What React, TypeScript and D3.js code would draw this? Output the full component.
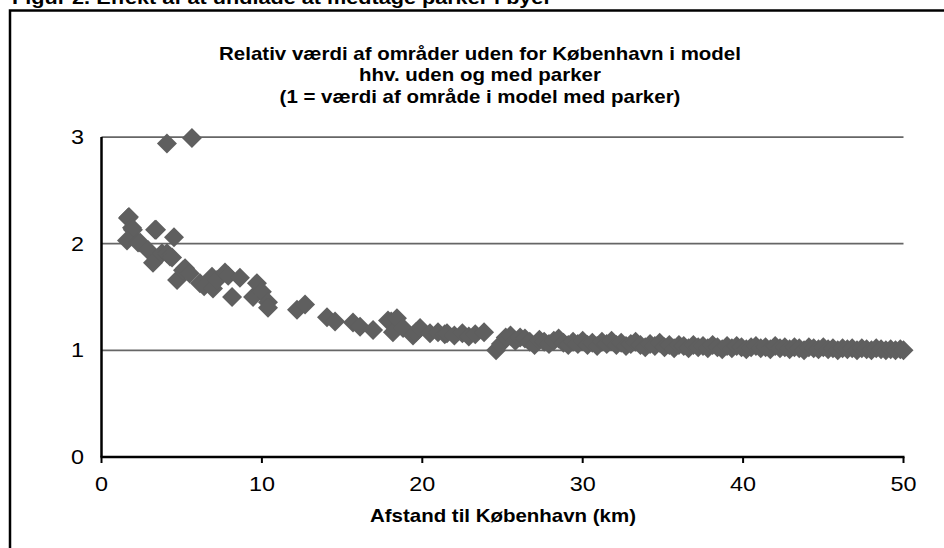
import * as d3 from 'd3'

// afstand til København (km) og relativ værdi (model uden / model med parker)
const distanceKm = [
  4.08, 5.64,
  1.65, 1.71, 1.9, 1.96, 1.59, 2.28, 2.4, 2.9, 3.21, 3.34, 3.4, 3.77, 4.08, 4.27, 4.4, 4.52, 4.71, 5.08, 5.21,
  5.5, 6.14, 6.4, 6.89, 6.95, 7.2, 7.7, 7.9, 8.14, 8.63, 9.45, 9.69, 10.0, 10.38, 10.38,
  12.19, 12.69, 14.06, 14.56, 15.68, 16.12, 16.93, 17.86, 18.06, 18.17, 18.42, 18.8, 19.42, 19.6, 19.86,
  20.48, 20.98, 21.4, 21.54, 22.0, 22.5, 22.9, 23.3, 23.85, 24.6,
  24.9, 25.2, 25.5, 25.8, 26.1, 26.4, 26.7, 27.0, 27.3, 27.6, 27.9, 28.2, 28.5, 28.8, 29.1, 29.4, 29.7,
  30.0, 30.3, 30.6, 30.9, 31.2, 31.5, 31.8, 32.1, 32.4, 32.7, 33.0, 33.3, 33.6, 33.9, 34.2, 34.5, 34.8,
  35.1, 35.4, 35.7, 36.0, 36.3, 36.6, 36.9, 37.2, 37.5, 37.8, 38.1, 38.4, 38.7, 39.0, 39.3, 39.6, 39.9,
  40.2, 40.5, 40.8, 41.1, 41.4, 41.7, 42.0, 42.3, 42.6, 42.9, 43.2, 43.5, 43.8, 44.1, 44.4, 44.7,
  45.0, 45.3, 45.6, 45.9, 46.2, 46.5, 46.8, 47.1, 47.4, 47.7, 48.0, 48.3, 48.6, 48.9, 49.2, 49.5, 49.8, 50.0,
]
const relValue = [
  2.94, 2.99,
  2.24, 2.25, 2.15, 2.13, 2.03, 2.01, 2.01, 1.94, 1.82, 2.13, 2.13, 1.91, 1.91, 1.88, 1.87, 2.06, 1.66, 1.75, 1.77,
  1.72, 1.63, 1.6, 1.69, 1.58, 1.66, 1.73, 1.7, 1.5, 1.68, 1.5, 1.63, 1.55, 1.45, 1.4,
  1.38, 1.43, 1.31, 1.27, 1.26, 1.22, 1.19, 1.28, 1.27, 1.17, 1.3, 1.21, 1.14, 1.17, 1.21,
  1.16, 1.17, 1.15, 1.16, 1.14, 1.16, 1.13, 1.15, 1.17, 1.0,
  1.06, 1.12, 1.14, 1.09, 1.12, 1.11, 1.08, 1.05, 1.1, 1.08, 1.06, 1.09, 1.11, 1.07, 1.05, 1.08, 1.06,
  1.09, 1.05, 1.07, 1.04, 1.08, 1.06, 1.09, 1.05, 1.07, 1.04, 1.06, 1.08, 1.05, 1.03, 1.06, 1.04, 1.07,
  1.03, 1.05, 1.02, 1.05, 1.04, 1.02, 1.05, 1.03, 1.04, 1.02, 1.05, 1.03, 1.01, 1.04, 1.02, 1.04, 1.03,
  1.01, 1.03, 1.04, 1.02, 1.03, 1.01, 1.04, 1.02, 1.03, 1.01, 1.03, 1.02, 1.0, 1.03, 1.02, 1.01,
  1.03, 1.01, 1.02, 1.0, 1.02, 1.01, 1.02, 1.0, 1.02, 1.01, 1.0, 1.02, 1.01, 1.0, 1.01, 1.0, 1.01, 1.0,
]

const xTicks = [0, 10, 20, 30, 40, 50]
const yTicks = [0, 1, 2, 3]
const titleLines = [
  'Relativ værdi af områder uden for København i model',
  'hhv. uden og med parker',
  '(1 = værdi af område i model med parker)',
]
const caption = 'Figur 2. Effekt af at undlade at medtage parker i byer'
const xTitle = 'Afstand til København (km)'

const FONT = '"Liberation Sans", Arial, sans-serif'
const STRETCH = 1.17

function SText({ x, y, size, bold = false, anchor = 'start', children }: any) {
  return (
    <text
      transform={`translate(${x},${y}) scale(${STRETCH},1)`}
      fontFamily={FONT}
      fontSize={size}
      fontWeight={bold ? 'bold' : 'normal'}
      textAnchor={anchor}
      fill="#000"
    >
      {children}
    </text>
  )
}

export default function App() {
  const width = 944
  const height = 548
  const x = d3.scaleLinear().domain([0, 50]).range([101.5, 903.5])
  const y = d3.scaleLinear().domain([0, 3]).range([457, 137])
  const diamond = d3.symbol().type(d3.symbolSquare).size(200)()

  const points = distanceKm.map((d, i) => ({ km: d, v: relValue[i] }))

  return (
    <svg
      width={width}
      height={height}
      style={{ position: 'absolute', left: 0, top: 0, background: '#fff' }}
    >
      <SText x={12} y={4} size={18.5} bold>
        {caption}
      </SText>
      <rect x={10} y={10.5} width={1000} height={1000} fill="none" stroke="#000" strokeWidth={2.5} />

      {titleLines.map((t, i) => (
        <SText key={i} x={480} y={60 + i * 21.3} size={17.5} bold anchor="middle">
          {t}
        </SText>
      ))}

      {yTicks
        .filter((t) => t > 0)
        .map((t) => (
          <line key={t} x1={x(0)} x2={x(50)} y1={y(t)} y2={y(t)} stroke="#666" strokeWidth={1.75} />
        ))}

      {points.map((p, i) => (
        <path
          key={i}
          d={diamond!}
          transform={`translate(${x(p.km)},${y(p.v)}) rotate(45)`}
          fill="#5f5f5f"
        />
      ))}

      <line x1={x(0)} x2={x(0)} y1={y(3)} y2={y(0)} stroke="#000" strokeWidth={2.5} />
      <line x1={x(0) - 1} x2={x(50) + 1} y1={y(0)} y2={y(0)} stroke="#000" strokeWidth={2.5} />
      {xTicks.map((t) => (
        <line key={t} x1={x(t)} x2={x(t)} y1={y(0)} y2={y(0) + 6} stroke="#000" strokeWidth={2} />
      ))}

      {xTicks.map((t) => (
        <SText key={t} x={x(t)} y={491} size={20} anchor="middle">
          {t}
        </SText>
      ))}
      {yTicks.map((t) => (
        <SText key={t} x={84} y={y(t) + 7} size={20} anchor="end">
          {t}
        </SText>
      ))}

      <SText x={503} y={522} size={17.5} bold anchor="middle">
        {xTitle}
      </SText>
    </svg>
  )
}
